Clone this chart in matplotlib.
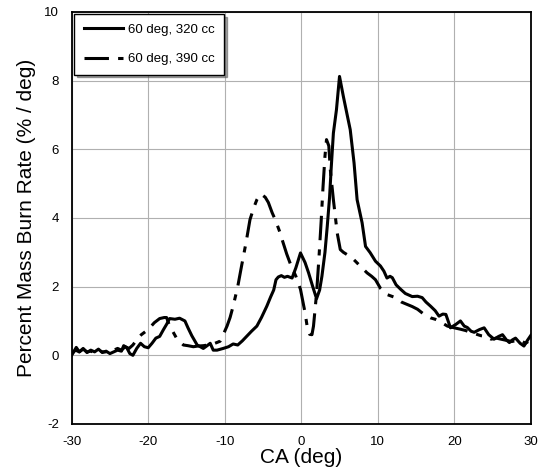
import matplotlib
matplotlib.use("Agg")
import matplotlib.pyplot as plt

plt.rcParams['font.family'] = ['Liberation Sans', 'DejaVu Sans']
plt.rcParams['axes.unicode_minus'] = False

x_320 = [-30, -29.4, -29, -28.5, -28, -27.5, -27, -26.5, -26, -25.5, -25, -24.5, -24, -23.5, -23.2, -22.8,
         -22.4, -22, -21.5, -21, -20.5, -20, -19.5, -19, -18.5, -18, -17.6, -17.2, -16.5, -15.9, -15.2, -14.8,
         -14.3, -13.6, -12.8, -12.3, -11.9, -11.5, -11.0, -10.2, -9.5, -8.9, -8.3, -7.7, -7.1, -6.5, -5.8, -5.2,
         -4.5, -4.0, -3.6, -3.3, -3.0, -2.6, -2.2, -1.8, -1.2, -0.7, -0.1, 0.5, 0.96, 1.5, 2.0, 2.4, 2.7, 3.1,
         3.4, 3.7, 3.9, 4.2, 4.6, 5.0, 5.5, 6.0, 6.4, 6.9, 7.3, 7.95, 8.4, 9.0, 9.7, 10.35, 10.8, 11.2, 11.6,
         11.9, 12.4, 13.0, 13.6, 14.5, 15.2, 15.8, 16.3, 16.9, 17.5, 18.0, 18.5, 18.9, 19.5, 20.2, 20.8, 21.3,
         21.7, 22.2, 22.6, 23.3, 23.9, 24.5, 25.2, 25.8, 26.3, 26.8, 27.2, 27.6, 28.0, 28.6, 29.1, 29.6, 30]
y_320 = [0.0, 0.23, 0.1, 0.2, 0.08, 0.15, 0.1, 0.18, 0.08, 0.12, 0.05, 0.1, 0.15, 0.12, 0.28, 0.22,
         0.05, 0.0, 0.2, 0.35, 0.25, 0.22, 0.35, 0.5, 0.55, 0.75, 0.9, 1.07, 1.05, 1.08, 1.0, 0.8,
         0.57, 0.3, 0.2, 0.28, 0.35, 0.15, 0.15, 0.2, 0.25, 0.33, 0.3, 0.42, 0.56, 0.7, 0.85, 1.1,
         1.43, 1.7, 1.9, 2.2, 2.28, 2.32, 2.27, 2.3, 2.25, 2.55, 2.98, 2.7, 2.4, 2.0, 1.65, 1.9, 2.3, 3.0,
         3.76, 4.6, 5.4, 6.47, 7.15, 8.12, 7.54, 7.0, 6.57, 5.6, 4.53, 3.86, 3.17, 2.99, 2.74, 2.6, 2.45, 2.25, 2.3,
         2.26, 2.05, 1.92, 1.8, 1.71, 1.72, 1.68, 1.55, 1.43, 1.3, 1.14, 1.2, 1.19, 0.8, 0.9, 1.0, 0.85,
         0.81, 0.7, 0.67, 0.75, 0.8, 0.6, 0.47, 0.55, 0.6, 0.45, 0.37, 0.45, 0.5, 0.35, 0.27, 0.45, 0.58]

x_390 = [-30, -29.5, -29, -28.5, -28, -27.5, -27, -26.5, -26, -25.5, -25, -24.5, -24, -23.5, -23, -22.5,
         -22, -21.5, -20.9, -20.3, -19.8, -19.2, -18.5, -17.9, -17.6, -17.2, -16.8, -16.3, -15.8, -15.4, -14.8,
         -14.1, -13.5, -12.8, -12.2, -11.5, -10.6, -10.2, -9.7, -9.3, -8.9, -8.3, -7.8, -7.2, -6.7, -6.2, -5.8,
         -5.4, -5.15, -4.7, -4.3, -3.8, -3.4, -2.75, -2.5, -1.9, -1.4, -0.7, -0.1, 0.5, 0.8, 1.1, 1.4, 1.6,
         2.0, 2.3, 2.6, 2.85, 3.1, 3.3, 3.6, 3.8, 4.2, 4.7, 5.1, 5.5, 6.0, 6.85, 7.7, 8.6, 9.2, 9.7, 10.35,
         11.2, 12.3, 13.1, 13.85, 14.5, 15.2, 16.0, 16.9, 17.5, 18.0, 19.1, 20.0, 20.8, 21.5, 22.1, 23.5,
         24.2, 24.8, 25.5, 26.5, 27.5, 28.5, 29.3, 30]
y_390 = [0.05, 0.15, 0.1, 0.18, 0.1, 0.12, 0.08, 0.15, 0.1, 0.1, 0.08, 0.15, 0.2, 0.15, 0.25, 0.2,
         0.3, 0.45, 0.6, 0.7, 0.8, 0.95, 1.07, 1.1, 1.1, 0.85, 0.7, 0.5, 0.38, 0.3, 0.28,
         0.25, 0.27, 0.28, 0.3, 0.33, 0.41, 0.6, 0.85, 1.1, 1.43, 2.0, 2.6, 3.3, 3.95, 4.3, 4.53,
         4.68, 4.68, 4.6, 4.45, 4.15, 3.95, 3.56, 3.37, 2.95, 2.65, 2.3, 1.92, 1.24, 0.8, 0.61, 0.6, 0.85,
         1.8, 2.79, 3.9, 4.92, 5.8, 6.28, 6.1, 5.4, 4.53, 3.56, 3.08, 3.0, 2.93, 2.79, 2.6, 2.4, 2.3, 2.2, 1.95,
         1.77, 1.68, 1.55, 1.48, 1.42, 1.34, 1.2, 1.09, 1.05, 1.0, 0.85, 0.8, 0.76, 0.72, 0.67, 0.57,
         0.55, 0.47, 0.5, 0.45, 0.4, 0.45, 0.35, 0.45]

labels = ["60 deg, 320 cc", "60 deg, 390 cc"]
xticks = [-30, -20, -10, 0, 10, 20, 30]
yticks = [-2, 0, 2, 4, 6, 8, 10]

fig = plt.figure(figsize=(5.45, 4.74), dpi=100)
ax = fig.add_axes([0.1315, 0.1055, 0.8425, 0.8695])
ax.plot(x_320, y_320, color='black', lw=2.2, label=labels[0])
ax.plot(x_390, y_390, color='black', lw=2.2, linestyle=(0, (8, 3, 2, 3)), label=labels[1])

ax.set_xlim(-30, 30)
ax.set_ylim(-2, 10)
ax.set_xticks(xticks)
ax.set_yticks(yticks)
ax.grid(True, color='#b0b0b0', lw=0.8)
ax.set_axisbelow(True)
ax.tick_params(labelsize=9.5, length=0, pad=9)
for s in ax.spines.values():
    s.set_linewidth(1.3)
ax.set_xlabel("CA (deg)", fontsize=15, labelpad=0)
ax.set_ylabel("Percent Mass Burn Rate (% / deg)", fontsize=15, labelpad=6)

leg = ax.legend(loc='upper left', fontsize=9.5, frameon=True, fancybox=False, shadow=True,
                edgecolor='black', labelspacing=1.3, borderpad=0.7, handlelength=3.0,
                handletextpad=0.4, borderaxespad=0.2)
leg.get_frame().set_linewidth(1.0)

fig.savefig("out.png", dpi=100)
